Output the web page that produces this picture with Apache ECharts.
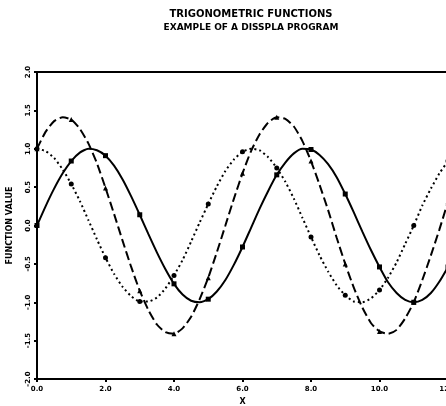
<!DOCTYPE html>
<html>
<head>
<meta charset="utf-8">
<script src="https://cdn.jsdelivr.net/npm/echarts@6/dist/echarts.min.js"></script>
<style>
  html, body { margin: 0; padding: 0; background: #fff; }
  #chart { width: 446px; height: 406px; }
</style>
</head>
<body>
<div id="chart"></div>
<script>
// x positions of the plotted points (every 0.25), markers at whole numbers
const xs = [0, 0.25, 0.5, 0.75, 1, 1.25, 1.5, 1.75, 2, 2.25, 2.5, 2.75, 3, 3.25, 3.5, 3.75,
  4, 4.25, 4.5, 4.75, 5, 5.25, 5.5, 5.75, 6, 6.25, 6.5, 6.75, 7, 7.25, 7.5, 7.75,
  8, 8.25, 8.5, 8.75, 9, 9.25, 9.5, 9.75, 10, 10.25, 10.5, 10.75, 11, 11.25, 11.5, 11.75, 12];
const sinVals = [0, 0.25, 0.48, 0.68, 0.84, 0.95, 1.0, 0.98, 0.91, 0.78, 0.6, 0.38, 0.14, -0.11, -0.35, -0.57,
  -0.76, -0.9, -0.98, -1.0, -0.96, -0.86, -0.71, -0.51, -0.28, -0.03, 0.22, 0.45, 0.66, 0.82, 0.94, 1.0,
  0.99, 0.92, 0.8, 0.63, 0.41, 0.17, -0.08, -0.32, -0.54, -0.74, -0.88, -0.97, -1.0, -0.97, -0.88, -0.73, -0.54];
const cosVals = [1.0, 0.97, 0.88, 0.73, 0.54, 0.32, 0.07, -0.18, -0.42, -0.63, -0.8, -0.92, -0.99, -0.99, -0.94, -0.82,
  -0.65, -0.45, -0.21, 0.04, 0.28, 0.51, 0.71, 0.86, 0.96, 1.0, 0.98, 0.89, 0.75, 0.57, 0.35, 0.1,
  -0.15, -0.39, -0.6, -0.78, -0.91, -0.99, -1.0, -0.95, -0.84, -0.68, -0.48, -0.24, 0.0, 0.26, 0.48, 0.68, 0.84];
const sumVals = [1.0, 1.22, 1.36, 1.41, 1.38, 1.26, 1.07, 0.81, 0.49, 0.15, -0.2, -0.54, -0.85, -1.1, -1.29, -1.39,
  -1.41, -1.34, -1.19, -0.96, -0.68, -0.35, 0.0, 0.35, 0.68, 0.97, 1.19, 1.34, 1.41, 1.39, 1.29, 1.1,
  0.84, 0.53, 0.2, -0.16, -0.5, -0.81, -1.07, -1.27, -1.38, -1.41, -1.36, -1.21, -1.0, -0.71, -0.39, -0.05, 0.31];

const titleText = 'TRIGONOMETRIC FUNCTIONS';
const subText = 'EXAMPLE OF A DISSPLA PROGRAM';
const xName = 'X';
const yName = 'FUNCTION VALUE';

const font = 'DejaVu Sans';

function pairs(vals) {
  return xs.map((x, i) => [x, vals[i]]);
}

// only put a marker on whole-number x
function markAt(shape) {
  return (value) => (Number.isInteger(value[0]) ? shape : 'none');
}

const chart = echarts.init(document.getElementById('chart'), null, { renderer: 'canvas' });

chart.setOption({
  backgroundColor: '#fff',
  animation: false,
  title: [
    {
      text: titleText,
      left: 246,
      top: 4,
      textAlign: 'center',
      textStyle: { fontFamily: font, fontSize: 10, fontWeight: 'bold', color: '#000' },
    },
    {
      text: subText,
      left: 246,
      top: 18,
      textAlign: 'center',
      textStyle: { fontFamily: font, fontSize: 9, fontWeight: 'bold', color: '#000' },
    },
  ],
  grid: {
    left: 37,
    right: -2,
    top: 72,
    bottom: 27,
    show: true,
    borderColor: '#000',
    borderWidth: 2,
    containLabel: false,
    outerBoundsMode: 'none',
  },
  xAxis: {
    type: 'value',
    min: 0,
    max: 12,
    interval: 2,
    name: xName,
    nameLocation: 'middle',
    nameGap: 17,
    nameTextStyle: { fontFamily: font, fontSize: 8, fontWeight: 'bold', color: '#000' },
    axisLine: { onZero: false, lineStyle: { color: '#000', width: 2 } },
    axisTick: { show: true, length: 3, lineStyle: { color: '#000', width: 2 } },
    axisLabel: {
      margin: 7,
      fontFamily: font,
      fontSize: 7,
      fontWeight: 'bold',
      color: '#000',
      formatter: (v) => v.toFixed(1),
    },
    splitLine: { show: false },
  },
  yAxis: {
    type: 'value',
    min: -2,
    max: 2,
    interval: 0.5,
    name: yName,
    nameLocation: 'middle',
    nameRotate: 90,
    nameGap: 23,
    nameTextStyle: { fontFamily: font, fontSize: 8, fontWeight: 'bold', color: '#000' },
    axisLine: { show: true, onZero: false, lineStyle: { color: '#000', width: 2 } },
    axisTick: { show: true, length: 3, lineStyle: { color: '#000', width: 2 } },
    axisLabel: {
      rotate: 90,
      margin: 5,
      fontFamily: font,
      fontSize: 7,
      fontWeight: 'bold',
      color: '#000',
      formatter: (v) => v.toFixed(1),
    },
    splitLine: { show: false },
  },
  series: [
    {
      name: 'SIN',
      type: 'line',
      smooth: 0.2,
      data: pairs(sinVals),
      symbol: markAt('rect'),
      symbolSize: 5,
      showAllSymbol: true,
      lineStyle: { color: '#000', width: 2 },
      itemStyle: { color: '#000' },
    },
    {
      name: 'COS',
      type: 'line',
      smooth: 0.2,
      data: pairs(cosVals),
      symbol: markAt('circle'),
      symbolSize: 5,
      showAllSymbol: true,
      lineStyle: { color: '#000', width: 2, type: [2, 3] },
      itemStyle: { color: '#000' },
    },
    {
      name: 'SIN+COS',
      type: 'line',
      smooth: 0.2,
      data: pairs(sumVals),
      symbol: markAt('triangle'),
      symbolSize: 5,
      showAllSymbol: true,
      lineStyle: { color: '#000', width: 2, type: [9, 4] },
      itemStyle: { color: '#000' },
    },
  ],
});
</script>
</body>
</html>
